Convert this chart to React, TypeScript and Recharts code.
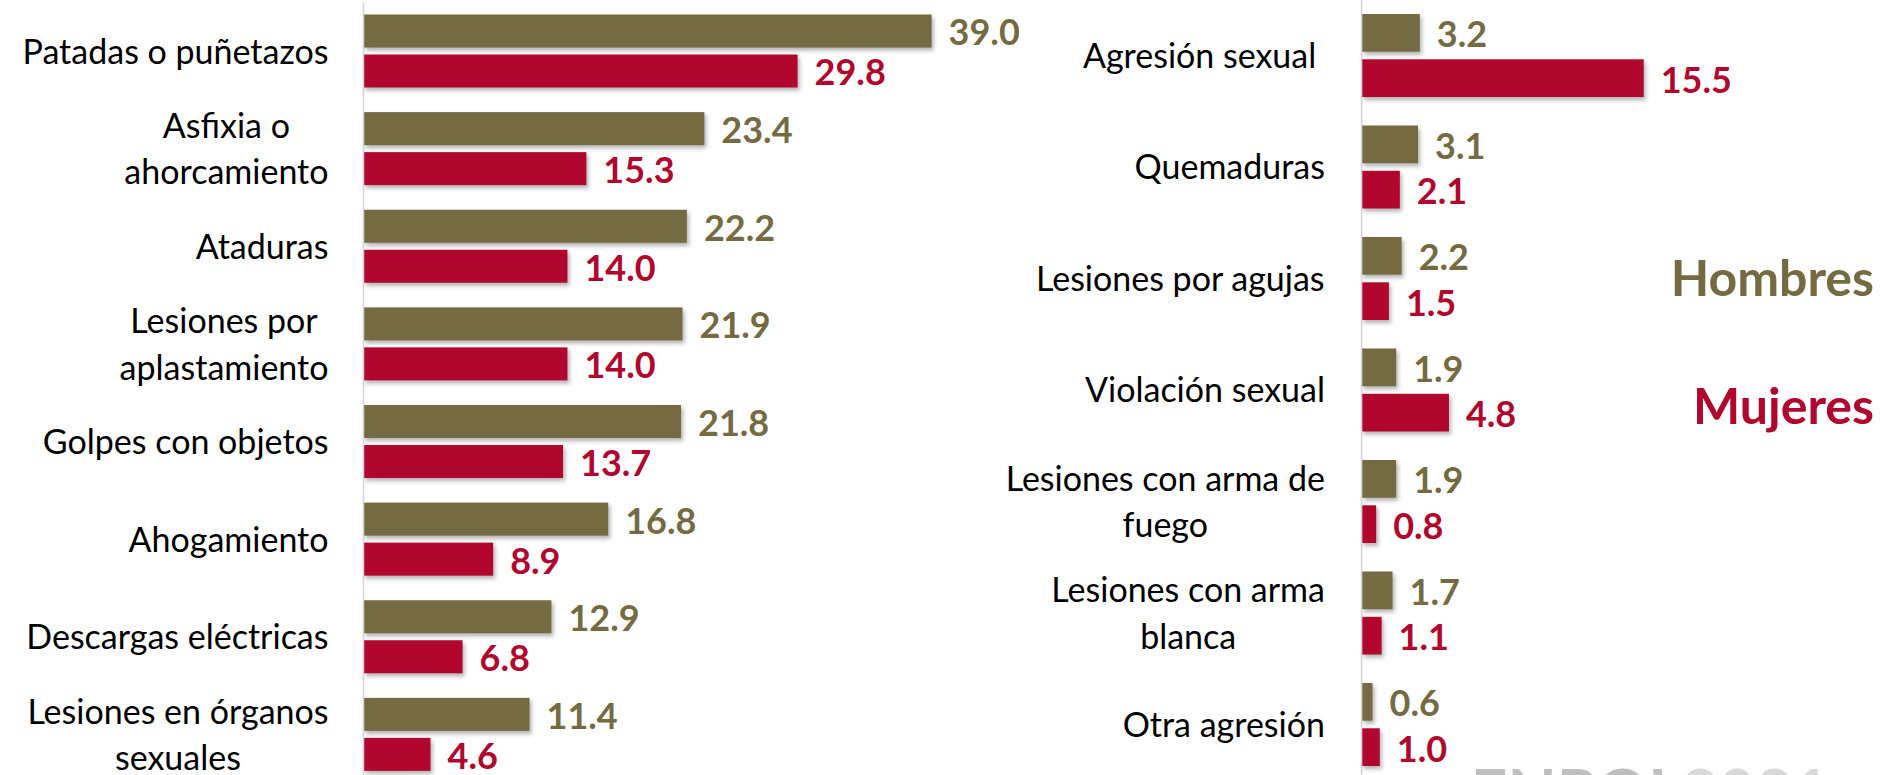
import React from "react";
import { BarChart, Bar, XAxis, YAxis, LabelList, Legend } from "recharts";

// categories (line breaks as in the original labels)
const leftCategories = [
  "Patadas o puñetazos",
  "Asfixia o\nahorcamiento",
  "Ataduras",
  "Lesiones por\naplastamiento",
  "Golpes con objetos",
  "Ahogamiento",
  "Descargas eléctricas",
  "Lesiones en órganos\nsexuales",
];
const leftHombres = [39.0, 23.4, 22.2, 21.9, 21.8, 16.8, 12.9, 11.4];
const leftMujeres = [29.8, 15.3, 14.0, 14.0, 13.7, 8.9, 6.8, 4.6];

const rightCategories = [
  "Agresión sexual\u00a0",
  "Quemaduras",
  "Lesiones por agujas",
  "Violación sexual",
  "Lesiones con arma de\nfuego",
  "Lesiones con arma\nblanca",
  "Otra agresión",
];
const rightHombres = [3.2, 3.1, 2.2, 1.9, 1.9, 1.7, 0.6];
const rightMujeres = [15.5, 2.1, 1.5, 4.8, 0.8, 1.1, 1.0];

const seriesNames = ["Hombres", "Mujeres"];
const watermark = ["ENPOL", "2021"];

const OLIVE = "#756B43";
const RED = "#B1062D";
const FONT = "Lato, 'Open Sans', sans-serif";
const CAT_SIZE = 34;
const CAP = 0.717;
const LINE_H = 46.5;
const VAL_SIZE = 36;

const leftData = leftCategories.map((name, i) => ({
  name,
  hombres: leftHombres[i],
  mujeres: leftMujeres[i],
}));
const rightData = rightCategories.map((name, i) => ({
  name,
  hombres: rightHombres[i],
  mujeres: rightMujeres[i],
}));

let ctx: CanvasRenderingContext2D | null = null;
function measure(s: string, font: string) {
  if (!ctx) ctx = document.createElement("canvas").getContext("2d");
  if (!ctx) return s.length * CAT_SIZE * 0.5;
  ctx.font = font;
  return ctx.measureText(s).width;
}

function CategoryTick(props: any) {
  const { x, y, payload, gap } = props;
  const lines = String(payload.value).split("\n");
  const font = `${CAT_SIZE}px ${FONT}`;
  const block = Math.max(...lines.map((l) => measure(l, font)));
  const cx = x - gap - block / 2;
  const first = y + (CAT_SIZE * CAP) / 2 - ((lines.length - 1) * LINE_H) / 2;
  return (
    <text textAnchor="middle" fontFamily={FONT} fontSize={CAT_SIZE} fill="#000">
      {lines.map((l, i) => (
        <tspan key={i} x={cx} y={first + i * LINE_H}>
          {l}
        </tspan>
      ))}
    </text>
  );
}

function BarShape(props: any) {
  const { x, y, width, height, fill } = props;
  if (!width || width <= 0) return null;
  return (
    <rect
      x={x}
      y={y}
      width={width}
      height={height}
      fill={fill}
      style={{ filter: "drop-shadow(2px 3px 2px rgba(0,0,0,0.3))" }}
    />
  );
}

const valueLabel = (color: string) => (props: any) => {
  const { x, y, width, height, value } = props;
  return (
    <text
      x={x + width + 17}
      y={y + height / 2 + (VAL_SIZE * CAP) / 2 + 1.5}
      fill={color}
      fontFamily={FONT}
      fontWeight="bold"
      fontSize={VAL_SIZE}
    >
      {Number(value).toFixed(1)}
    </text>
  );
};

function LegendBox(props: any) {
  const items = props.payload || [];
  return (
    <svg width={280} height={200}>
      {items.map((it: any, i: number) => (
        <text
          key={it.value}
          x={274}
          y={56 + i * 128.3}
          textAnchor="end"
          fill={it.color}
          fontFamily={FONT}
          fontWeight="bold"
          fontSize={50}
        >
          {it.value}
        </text>
      ))}
    </svg>
  );
}

export default function App() {
  return (
    <div
      style={{
        position: "fixed",
        left: 0,
        top: 0,
        width: 1903,
        height: 775,
        overflow: "hidden",
        background: "#fff",
      }}
    >
      <div style={{ position: "absolute", left: 0, top: 0 }}>
        <BarChart
          layout="vertical"
          width={1019}
          height={783.5}
          data={leftData}
          margin={{ top: 2.5, right: 0, bottom: 0, left: 0 }}
          barSize={33}
          barGap={7}
        >
          <XAxis type="number" domain={[0, 45]} hide />
          <YAxis
            type="category"
            dataKey="name"
            width={363.5}
            interval={0}
            tickLine={false}
            tickSize={0}
            tickMargin={0}
            axisLine={{ stroke: "#D4D4D4", strokeWidth: 1.5 }}
            tick={<CategoryTick gap={35} />}
          />
          <Bar dataKey="hombres" name={seriesNames[0]} fill={OLIVE} shape={<BarShape />} isAnimationActive={false}>
            <LabelList dataKey="hombres" content={valueLabel(OLIVE)} />
          </Bar>
          <Bar dataKey="mujeres" name={seriesNames[1]} fill={RED} shape={<BarShape />} isAnimationActive={false}>
            <LabelList dataKey="mujeres" content={valueLabel(RED)} />
          </Bar>
        </BarChart>
      </div>
      <div style={{ position: "absolute", left: 960, top: 0 }}>
        <BarChart
          layout="vertical"
          width={947.6}
          height={780.5}
          data={rightData}
          margin={{ top: 0, right: 0, bottom: 0, left: 0 }}
          barSize={37.7}
          barGap={7.6}
        >
          <XAxis type="number" domain={[0, 30]} hide />
          <YAxis
            type="category"
            dataKey="name"
            width={401.6}
            interval={0}
            tickLine={false}
            tickSize={0}
            tickMargin={0}
            axisLine={{ stroke: "#D4D4D4", strokeWidth: 1.5 }}
            tick={<CategoryTick gap={36.6} />}
          />
          <Bar dataKey="hombres" name={seriesNames[0]} fill={OLIVE} shape={<BarShape />} isAnimationActive={false}>
            <LabelList dataKey="hombres" content={valueLabel(OLIVE)} />
          </Bar>
          <Bar dataKey="mujeres" name={seriesNames[1]} fill={RED} shape={<BarShape />} isAnimationActive={false}>
            <LabelList dataKey="mujeres" content={valueLabel(RED)} />
          </Bar>
          <Legend
            layout="horizontal"
            align="center"
            verticalAlign="middle"
            content={<LegendBox />}
            wrapperStyle={{ left: 640, top: 240, width: 280, height: 200 }}
          />
        </BarChart>
      </div>
      <svg
        width={1903}
        height={775}
        style={{ position: "absolute", left: 0, top: 0, pointerEvents: "none" }}
      >
        <text x={1470.7} y={815} fontFamily={FONT} fontWeight="bold" fontSize={64}>
          <tspan fill="#BFBFBF">{watermark[0]}</tspan>
          <tspan fill="#D9D9D9">{watermark[1]}</tspan>
        </text>
      </svg>
    </div>
  );
}
